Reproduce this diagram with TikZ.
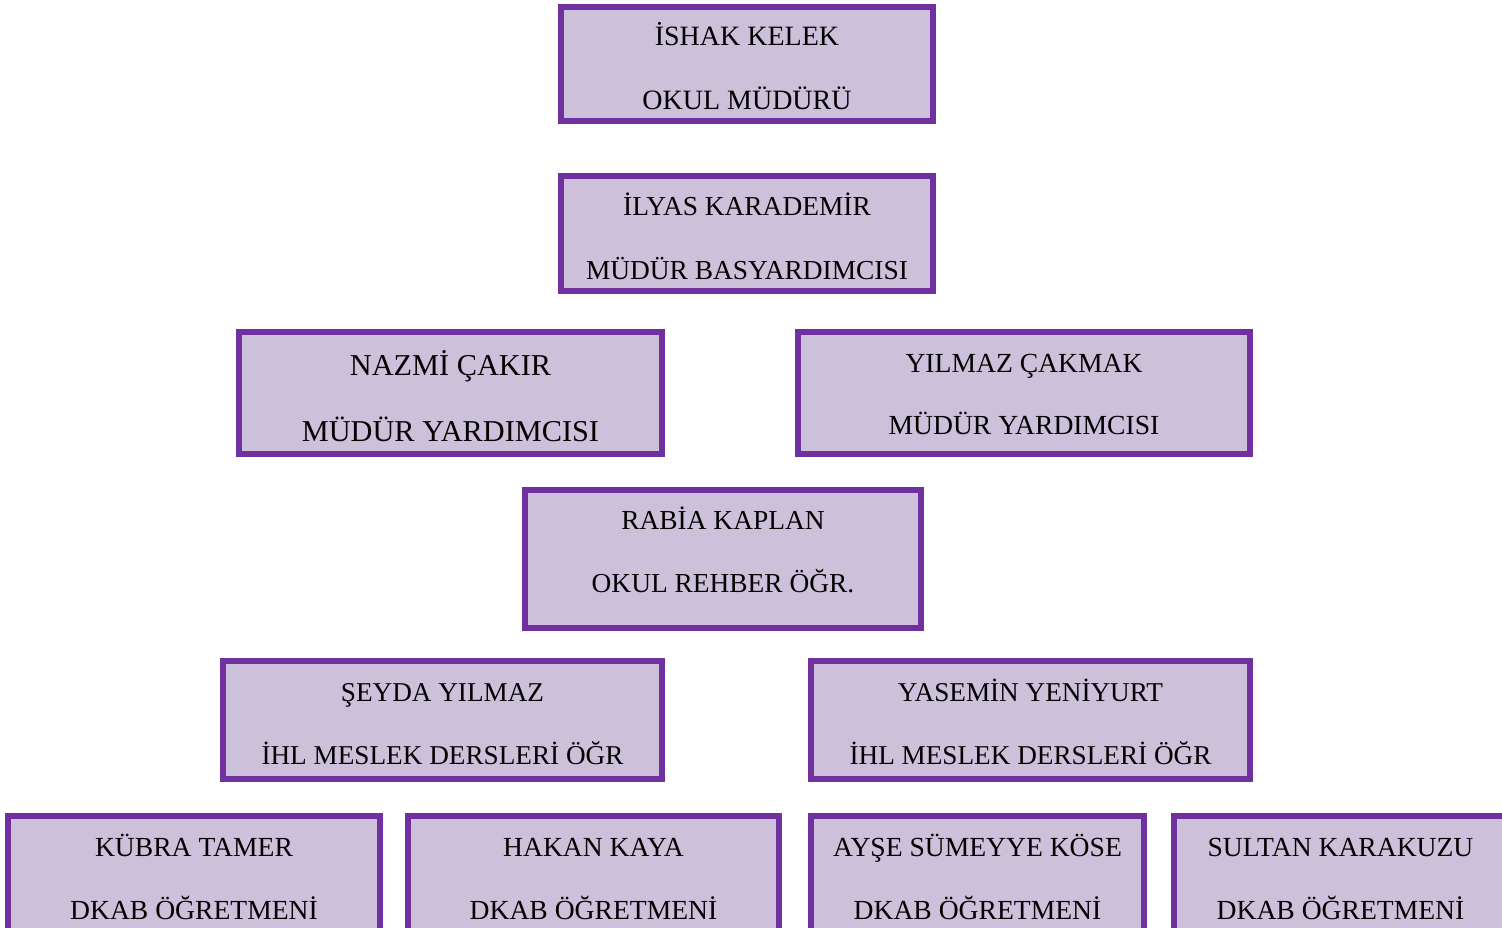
\documentclass[tikz,border=0pt]{standalone}
\usepackage{fontspec}
\setmainfont{Liberation Serif}
\definecolor{boxfill}{HTML}{CCC0DA}
\definecolor{boxline}{HTML}{7030A0}
\tikzset{
  orgbox/.style={draw=boxline, fill=boxfill, line width=6pt, rectangle, inner sep=0pt},
  orgtext/.style={anchor=base, inner sep=0pt, text=black}
}
% #1 name, #2 x1, #3 y1, #4 x2, #5 y2 (outer edges), #6 font size, #7 line1, #8 baseline1, #9 line2, #10 baseline2
\newcommand{\orgentry}[9]{%
  \node[orgbox, minimum width=#4pt-#2pt-6pt, minimum height=#5pt-#3pt-6pt] (#1) at ({(#2+#4)/2},{(#3+#5)/2}) {};
  \node[orgtext, font=\fontsize{#6}{#6}\selectfont] (#1-a) at ({(#2+#4)/2},#8-1) {#7};
  \orgsecond{#1}{#2}{#4}{#6}
  \orgsecondline{#9}}
\newcommand{\orgsecond}[4]{\def\osname{#1}\def\osx{(#2+#3)/2}\def\ossize{#4}}
\newcommand{\orgsecondline}[2]{%
  \node[orgtext, font=\fontsize{\ossize}{\ossize}\selectfont] (\osname-b) at ({\osx},#2-1) {#1};}
\begin{document}
\begin{tikzpicture}[x=1pt,y=-1pt]
\useasboundingbox (0,0) rectangle (1502,928);
\clip (0,0) rectangle (1502,928);
\orgentry{ishak}{558}{4}{936}{124}{28}{İSHAK KELEK}{47}{OKUL MÜDÜRÜ}{111}
\orgentry{ilyas}{558}{173}{936}{294}{27.4}{İLYAS KARADEMİR}{217}{MÜDÜR BASYARDIMCISI}{280}
\orgentry{nazmi}{236}{329}{665}{457}{30.3}{NAZMİ ÇAKIR}{376}{MÜDÜR YARDIMCISI}{442}
\orgentry{yilmaz}{795}{329}{1253}{457}{27.6}{YILMAZ ÇAKMAK}{373}{MÜDÜR YARDIMCISI}{435}
\orgentry{rabia}{522}{487}{924}{631}{27.4}{RABİA KAPLAN}{530}{OKUL REHBER ÖĞR.}{593}
\orgentry{seyda}{220}{658}{665}{782}{27.2}{ŞEYDA YILMAZ}{702}{İHL MESLEK DERSLERİ ÖĞR}{765}
\orgentry{yasemin}{808}{658}{1253}{782}{27.2}{YASEMİN YENİYURT}{702}{İHL MESLEK DERSLERİ ÖĞR}{765}
\orgentry{kubra}{5}{813}{383}{945}{27.6}{KÜBRA TAMER}{857}{DKAB ÖĞRETMENİ}{920}
\orgentry{hakan}{405}{813}{782}{945}{27.6}{HAKAN KAYA}{857}{DKAB ÖĞRETMENİ}{920}
\orgentry{ayse}{808}{813}{1147}{945}{27.6}{AYŞE SÜMEYYE KÖSE}{857}{DKAB ÖĞRETMENİ}{920}
\orgentry{sultan}{1171}{813}{1510}{945}{27.6}{SULTAN KARAKUZU}{857}{DKAB ÖĞRETMENİ}{920}
\end{tikzpicture}
\end{document}
